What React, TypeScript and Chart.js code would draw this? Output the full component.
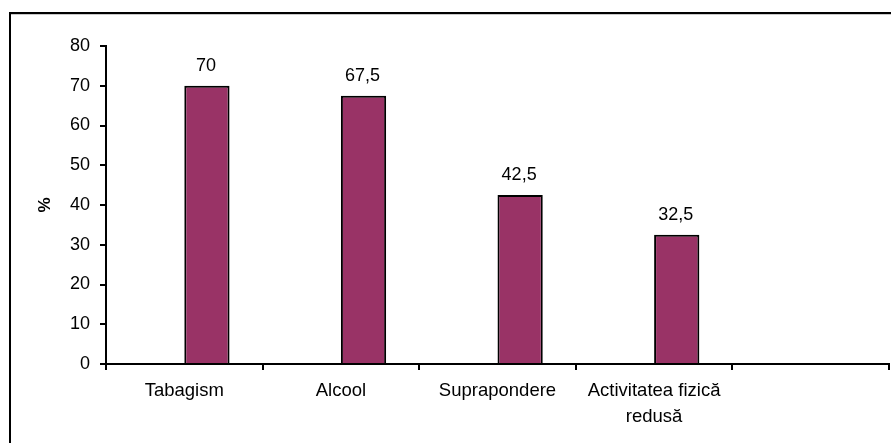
import React, { useEffect, useRef } from "react";
import { Chart, registerables } from "chart.js";

Chart.register(...registerables);

// Risk factors (percent of respondents)
const categories: (string | string[])[] = [
  "Tabagism",
  "Alcool",
  "Suprapondere",
  ["Activitatea fizică", "redusă"],
  "",
];
const emptySeries: (number | null)[] = [null, null, null, null, null];
const percentValues: (number | null)[] = [70, 67.5, 42.5, 32.5, null];
const yTicks = { min: 0, max: 80, step: 10 };

const FONT = "'Liberation Sans', Arial, sans-serif";
const W = 891;
const H = 443;

// White background plus the outer chart frame (left and top edges)
const framePlugin = {
  id: "frame",
  beforeDraw(chart: any) {
    const ctx = chart.ctx;
    ctx.save();
    ctx.fillStyle = "#ffffff";
    ctx.fillRect(0, 0, chart.width, chart.height);
    ctx.fillStyle = "#000000";
    ctx.fillRect(9, 12, 2, chart.height - 12);
    ctx.fillRect(9, 12, chart.width - 9, 2);
    ctx.fillStyle = "#c8c8c8";
    ctx.fillRect(11, 14, chart.width - 11, 1);
    ctx.restore();
  },
};

// Value labels above each bar, decimal comma
const valueLabelPlugin = {
  id: "valueLabels",
  afterDatasetsDraw(chart: any) {
    const ctx = chart.ctx;
    const meta = chart.getDatasetMeta(1);
    const data = chart.data.datasets[1].data;
    ctx.save();
    ctx.font = `18px ${FONT}`;
    ctx.fillStyle = "#000000";
    ctx.textAlign = "center";
    ctx.textBaseline = "alphabetic";
    meta.data.forEach((bar: any, i: number) => {
      const v = data[i];
      if (v === null || v === undefined) return;
      ctx.fillText(String(v).replace(".", ","), bar.x - 1, bar.y - 15);
    });
    ctx.restore();
  },
};

export default function App() {
  const ref = useRef<HTMLCanvasElement>(null);

  useEffect(() => {
    if (!ref.current) return;
    const chart = new Chart(ref.current, {
      type: "bar",
      data: {
        labels: categories,
        datasets: [
          {
            label: "",
            data: emptySeries,
            backgroundColor: "#993366",
          },
          {
            label: "%",
            data: percentValues,
            backgroundColor: "#993366",
            borderColor: "#000000",
            borderWidth: 2,
          },
        ],
      },
      options: {
        responsive: false,
        animation: false,
        devicePixelRatio: 1,
        categoryPercentage: 0.578,
        barPercentage: 1,
        layout: { padding: { top: 46, right: 2, bottom: 0, left: 0 } },
        plugins: {
          legend: { display: false },
          tooltip: { enabled: false },
        },
        scales: {
          x: {
            grid: {
              offset: true,
              drawOnChartArea: false,
              drawTicks: true,
              tickLength: 6,
              color: "#000000",
              lineWidth: 2,
            },
            border: { display: true, color: "#000000", width: 2 },
            ticks: {
              color: "#000000",
              font: { family: FONT, size: 18.5, lineHeight: 1.42 },
              padding: 8,
              maxRotation: 0,
              autoSkip: false,
            },
            afterFit: (scale: any) => {
              scale.height = 79;
            },
          },
          y: {
            min: yTicks.min,
            max: yTicks.max,
            grid: {
              drawOnChartArea: false,
              drawTicks: true,
              tickLength: 6,
              color: "#000000",
              lineWidth: 2,
            },
            border: { display: true, color: "#000000", width: 2 },
            ticks: {
              stepSize: yTicks.step,
              color: "#000000",
              font: { family: FONT, size: 18 },
              padding: 10,
            },
            title: {
              display: true,
              text: "%",
              color: "#000000",
              font: { family: FONT, size: 17, weight: "bold" },
              padding: { top: 35, bottom: 0 },
            },
            afterFit: (scale: any) => {
              scale.width = 106;
            },
          },
        },
      },
      plugins: [framePlugin, valueLabelPlugin],
    });
    return () => chart.destroy();
  }, []);

  return (
    <div style={{ position: "fixed", left: 0, top: 0, width: W, height: H, background: "#fff" }}>
      <canvas ref={ref} width={W} height={H} style={{ width: W, height: H, display: "block" }} />
    </div>
  );
}
